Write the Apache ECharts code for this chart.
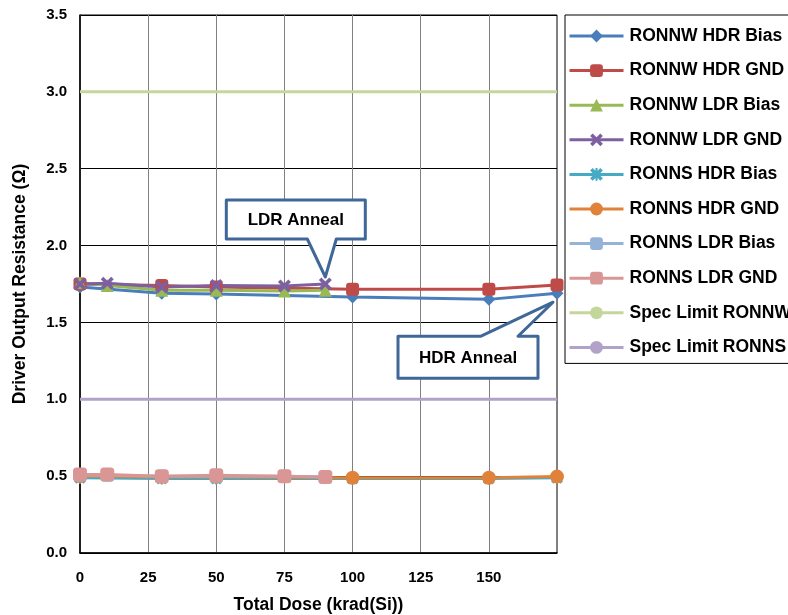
<!DOCTYPE html>
<html>
<head>
<meta charset="utf-8">
<script src="https://cdn.jsdelivr.net/npm/echarts@6/dist/echarts.min.js"></script>
<style>
  html, body { margin: 0; padding: 0; background: #fff; }
  #chart { width: 788px; height: 615px; }
</style>
</head>
<body>
<div id="chart"></div>
<script>
// Total dose steps (krad(Si)); last step of each run is the anneal point
const doseHDR = [0, 30, 50, 100, 150, 175];
const doseLDR = [0, 10, 30, 50, 75, 90];

// RONNW driver resistance (ohm)
const ronnwHdrBias = [1.73, 1.69, 1.685, 1.665, 1.65, 1.69];
const ronnwHdrGnd  = [1.75, 1.74, 1.73, 1.716, 1.716, 1.744];
const ronnwLdrBias = [1.76, 1.74, 1.71, 1.71, 1.705, 1.71];
const ronnwLdrGnd  = [1.75, 1.755, 1.73, 1.74, 1.737, 1.75];

// RONNS driver resistance (ohm)
const ronnsHdrBias = [0.49, 0.485, 0.485, 0.485, 0.485, 0.49];
const ronnsHdrGnd  = [0.50, 0.495, 0.495, 0.49, 0.49, 0.497];
const ronnsLdrBias = [0.505, 0.505, 0.50, 0.50, 0.50, 0.495];
const ronnsLdrGnd  = [0.51, 0.51, 0.50, 0.505, 0.50, 0.495];

// Specification limits
const specRonnw = 3.0;
const specRonns = 1.0;

// Axis ticks
const xMin = 0, xMax = 175, xStep = 25;
const yMin = 0, yMax = 3.5, yStep = 0.5;

const FONT = '"Liberation Sans", Arial, sans-serif';

const pairs = (xs, ys) => xs.map((x, i) => [x, ys[i]]);
const xShape = 'path://M2,0 L5,3 L8,0 L10,2 L7,5 L10,8 L8,10 L5,7 L2,10 L0,8 L3,5 L0,2 Z';
const starShape = 'path://M2,0 L5,3 L8,0 L10,2 L7,5 L10,8 L8,10 L5,7 L2,10 L0,8 L3,5 L0,2 Z M4.2,0 L5.8,0 L5.8,10 L4.2,10 Z';

function dataSeries(name, xs, ys, color, symbol, size) {
  return {
    name: name,
    type: 'line',
    data: pairs(xs, ys),
    symbol: symbol,
    symbolSize: size,
    showAllSymbol: true,
    lineStyle: { color: color, width: 3 },
    itemStyle: { color: color },
    emphasis: { disabled: true },
    z: 3
  };
}

function specSeries(name, value, color) {
  return {
    name: name,
    type: 'line',
    data: [[xMin, value], [xMax, value]],
    symbol: 'none',
    lineStyle: { color: color, width: 3 },
    itemStyle: { color: color },
    emphasis: { disabled: true },
    z: 2
  };
}

const chart = echarts.init(document.getElementById('chart'), null, { renderer: 'canvas' });

chart.setOption({
  animation: false,
  backgroundColor: '#ffffff',
  textStyle: { fontFamily: FONT },
  grid: {
    left: 80, right: 231, top: 15, bottom: 62,
    outerBoundsMode: 'none',
    containLabel: false,
    show: true, borderColor: '#000', borderWidth: 1
  },
  legend: {
    orient: 'vertical',
    left: 565, top: 15,
    padding: [12, 60, 7, 3],
    itemWidth: 54, itemHeight: 16, itemGap: 16.6,
    borderColor: '#000', borderWidth: 1,
    backgroundColor: '#fff',
    lineStyle: { width: 3 },
    textStyle: { fontFamily: FONT, fontWeight: 'bold', fontSize: 17.5, color: '#000', padding: [0, 0, 0, 1] },
    data: ['RONNW HDR Bias', 'RONNW HDR GND', 'RONNW LDR Bias', 'RONNW LDR GND',
           'RONNS HDR Bias', 'RONNS HDR GND', 'RONNS LDR Bias', 'RONNS LDR GND',
           'Spec Limit RONNW', 'Spec Limit RONNS']
  },
  xAxis: {
    type: 'value',
    min: xMin, max: xMax, interval: xStep,
    name: 'Total Dose (krad(Si))',
    nameLocation: 'middle', nameGap: 43,
    nameTextStyle: { fontFamily: FONT, fontWeight: 'bold', fontSize: 17.5, color: '#000' },
    axisLine: { lineStyle: { color: '#000', width: 1.5 } },
    axisTick: { show: false },
    axisLabel: {
      fontFamily: FONT, fontWeight: 'bold', fontSize: 15, color: '#000', margin: 17,
      formatter: v => (v === xMax ? '' : String(v))
    },
    splitLine: { show: true, lineStyle: { color: '#808080', width: 1 } }
  },
  yAxis: {
    type: 'value',
    min: yMin, max: yMax, interval: yStep,
    name: 'Driver Output Resistance (Ω)',
    nameLocation: 'middle', nameGap: 51,
    nameTextStyle: { fontFamily: FONT, fontWeight: 'bold', fontSize: 17.5, color: '#000' },
    axisLine: { show: true, lineStyle: { color: '#000', width: 1.5 } },
    axisTick: { show: false },
    axisLabel: {
      fontFamily: FONT, fontWeight: 'bold', fontSize: 15, color: '#000', margin: 13,
      formatter: v => v.toFixed(1)
    },
    splitLine: { show: true, lineStyle: { color: '#000', width: 1 } }
  },
  series: [
    dataSeries('RONNW HDR Bias', doseHDR, ronnwHdrBias, '#4A7EBB', 'diamond', 13),
    dataSeries('RONNW HDR GND',  doseHDR, ronnwHdrGnd,  '#BE4B48', 'roundRect', 13),
    dataSeries('RONNW LDR Bias', doseLDR, ronnwLdrBias, '#98B954', 'triangle', 13),
    dataSeries('RONNW LDR GND',  doseLDR, ronnwLdrGnd,  '#7D60A0', xShape, 13),
    dataSeries('RONNS HDR Bias', doseHDR, ronnsHdrBias, '#46AAC5', starShape, 12),
    dataSeries('RONNS HDR GND',  doseHDR, ronnsHdrGnd,  '#E0823A', 'circle', 14),
    dataSeries('RONNS LDR Bias', doseLDR, ronnsLdrBias, '#95B3D7', 'roundRect', 13),
    dataSeries('RONNS LDR GND',  doseLDR, ronnsLdrGnd,  '#D99694', 'roundRect', 14),
    specSeries('Spec Limit RONNW', specRonnw, '#C3D69B'),
    specSeries('Spec Limit RONNS', specRonns, '#B3A2C7')
  ]
});

// Callout boxes pointing at the anneal points
function callout(anchor, tipOffset, box, base, label, baseOnTop) {
  const p = chart.convertToPixel({ xAxisIndex: 0, yAxisIndex: 0 }, anchor);
  const tx = p[0] + tipOffset[0], ty = p[1] + tipOffset[1];
  const L = tx + box[0], R = tx + box[1], T = ty + box[2], B = ty + box[3];
  const b0 = tx + base[0], b1 = tx + base[1];
  const pts = baseOnTop
    ? [[L, T], [b0, T], [tx, ty], [b1, T], [R, T], [R, B], [L, B]]
    : [[L, T], [R, T], [R, B], [b1, B], [tx, ty], [b0, B], [L, B]];
  return [
    {
      type: 'polygon',
      shape: { points: pts },
      style: { fill: '#fff', stroke: '#3F6797', lineWidth: 3, lineJoin: 'round' },
      z: 100
    },
    {
      type: 'text',
      x: (L + R) / 2, y: (T + B) / 2 + 1,
      style: {
        text: label, fill: '#000', font: 'bold 17px ' + FONT,
        textAlign: 'center', textVerticalAlign: 'middle'
      },
      z: 101
    }
  ];
}

const ldrLast = doseLDR.length - 1;
const hdrLast = doseHDR.length - 1;
chart.setOption({
  graphic: [].concat(
    callout([doseLDR[ldrLast], ronnwLdrGnd[ldrLast]], [0, -7], [-99, 40, -77, -38], [-18, 11], 'LDR Anneal', false),
    callout([doseHDR[hdrLast], ronnwHdrBias[hdrLast]], [-4, 9], [-155, -15, 34, 76], [-72, -35], 'HDR Anneal', true)
  )
});
</script>
</body>
</html>
